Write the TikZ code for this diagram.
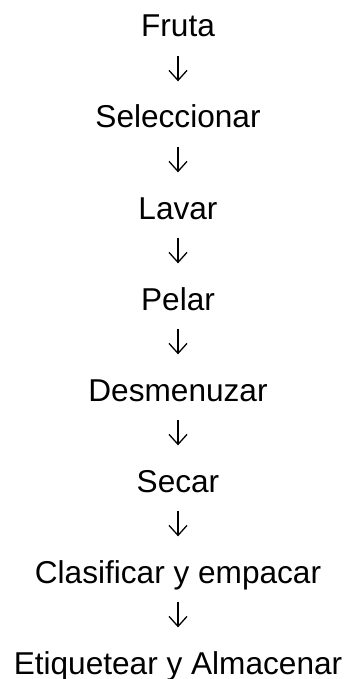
\documentclass[tikz,border=0pt]{standalone}
\usepackage{fontspec}
\setmainfont{Liberation Sans}
\usetikzlibrary{arrows.meta}

\tikzset{
  paso/.style={anchor=base, inner sep=0pt, text height=22pt, text depth=0pt,
    font=\fontsize{31.6}{38}\selectfont},
}

\begin{document}
\begin{tikzpicture}[x=1pt, y=1pt, line width=1.3pt,
  >={Straight Barb[length=10pt, width=18pt]}]

\useasboundingbox (0,0) rectangle (348,-679);

\node (fruta) at (178,-37) [paso] {Fruta};
\node (seleccionar) at (178,-128) [paso] {Seleccionar};
\node (lavar) at (178,-219) [paso] {Lavar};
\node (pelar) at (178,-310) [paso] {Pelar};
\node (desmenuzar) at (178,-401) [paso] {Desmenuzar};
\node (secar) at (178,-492) [paso] {Secar};
\node (clasificar) at (178,-583) [paso] {Clasificar y empacar};
\node (etiquetar) at (178,-674) [paso] {Etiquetear y Almacenar};

\draw[->, shorten <=18pt, shorten >=24pt] (fruta) -- (seleccionar);
\draw[->, shorten <=18pt, shorten >=24pt] (seleccionar) -- (lavar);
\draw[->, shorten <=18pt, shorten >=24pt] (lavar) -- (pelar);
\draw[->, shorten <=18pt, shorten >=24pt] (pelar) -- (desmenuzar);
\draw[->, shorten <=18pt, shorten >=24pt] (desmenuzar) -- (secar);
\draw[->, shorten <=18pt, shorten >=24pt] (secar) -- (clasificar);
\draw[->, shorten <=18pt, shorten >=24pt] (clasificar) -- (etiquetar);

\end{tikzpicture}
\end{document}
